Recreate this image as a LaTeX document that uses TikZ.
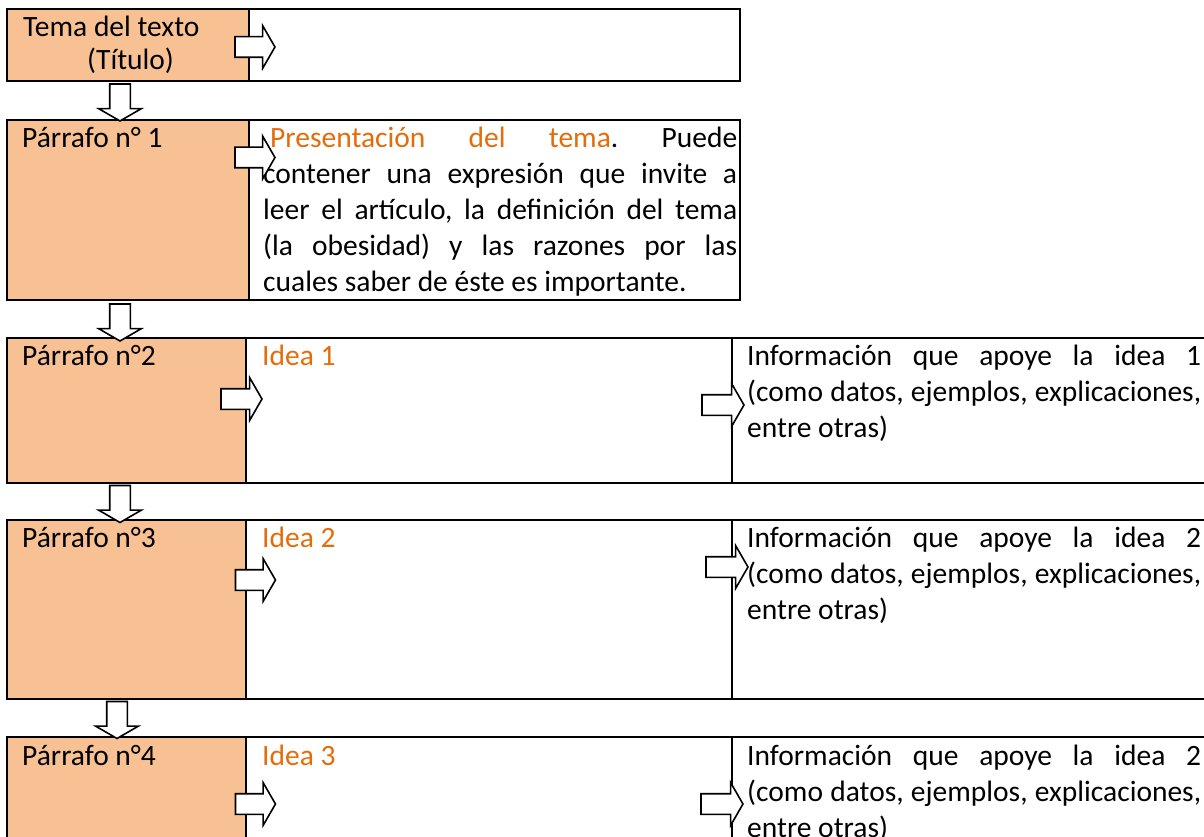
\documentclass[tikz,border=0pt]{standalone}
\usepackage{fontspec}
\setmainfont{Carlito}
\usetikzlibrary{shapes.arrows, positioning}
\definecolor{ParaFill}{HTML}{F8C194}
\definecolor{IdeaOrange}{HTML}{E46C0A}
\frenchspacing

\begin{document}
\begin{tikzpicture}
[x=1pt, y=-1pt,
font=\fontsize{29.5}{36}\selectfont,
LeftCell/.style={rectangle, draw=black, line width=2pt, fill=ParaFill,
inner sep=0pt, outer sep=0pt, anchor=north west, minimum height=#1},
TextCell/.style={rectangle, draw=black, line width=2pt, fill=white,
inner sep=0pt, outer sep=0pt, minimum height=#1},
BlockArrow/.style={single arrow, draw=black, fill=white, line width=1.6pt,
inner xsep=0pt, inner ysep=9.5pt, single arrow head extend=11pt,
single arrow tip angle=120, minimum height=#1},
CellText/.style={anchor=base west, inner sep=0pt},
BodyText/.style={anchor=base west, inner sep=0pt, align=justify, text width=#1}
]
\useasboundingbox (0,0) rectangle (1204,837);

% rows of the outline
\node[LeftCell=72pt, minimum width=242pt] (Tema) at (7,9) {};
\node[TextCell=72pt, minimum width=491pt] (TemaBox) [right=0pt of Tema] {};

\node[LeftCell=180pt, minimum width=242pt] (Par1) at (7,120) {};
\node[TextCell=180pt, minimum width=491pt] (Par1Box) [right=0pt of Par1] {};

\node[LeftCell=145pt, minimum width=239pt] (Par2) at (7,337.5) {};
\node[TextCell=145pt, minimum width=486pt] (Idea1) [right=0pt of Par2] {};
\node[TextCell=145pt, minimum width=490pt] (Info1) [right=0pt of Idea1] {};

\node[LeftCell=179pt, minimum width=239pt] (Par3) at (7,519.5) {};
\node[TextCell=179pt, minimum width=486pt] (Idea2) [right=0pt of Par3] {};
\node[TextCell=179pt, minimum width=490pt] (Info2) [right=0pt of Idea2] {};

\node[LeftCell=179pt, minimum width=239pt] (Par4) at (7,737) {};
\node[TextCell=179pt, minimum width=486pt] (Idea3) [right=0pt of Par4] {};
\node[TextCell=179pt, minimum width=490pt] (Info3) [right=0pt of Idea3] {};

% texts
\node[CellText] (TemaTxt) at ([xshift=16pt, yshift=-28pt]Tema.north west) {Tema del texto};
\node[CellText] (TituloTxt) at ([xshift=80pt, yshift=-61pt]Tema.north west) {(Título)};

\node[CellText] (Par1Txt) at ([xshift=15pt, yshift=-28pt]Par1.north west) {Párrafo n° 1};
\node[BodyText=474pt] (Par1Body) at ([xshift=14pt, yshift=-28pt]Par1Box.north west)
{\hspace*{7pt}\textcolor{IdeaOrange}{Presentación del tema}. Puede\linebreak
contener una expresión que invite a\linebreak
leer el artículo, la definición del tema\linebreak
(la obesidad) y las razones por las\linebreak
cuales saber de éste es importante.};

\node[CellText] (Par2Txt) at ([xshift=15pt, yshift=-28pt]Par2.north west) {Párrafo n°2};
\node[CellText, text=IdeaOrange] (Idea1Txt) at ([xshift=16pt, yshift=-28pt]Idea1.north west) {Idea 1};
\node[BodyText=454pt] (Info1Txt) at ([xshift=15pt, yshift=-28pt]Info1.north west)
{Información que apoye la idea 1\linebreak
(como datos, ejemplos, explicaciones,\linebreak
entre otras)};

\node[CellText] (Par3Txt) at ([xshift=15pt, yshift=-28pt]Par3.north west) {Párrafo n°3};
\node[CellText, text=IdeaOrange] (Idea2Txt) at ([xshift=16pt, yshift=-28pt]Idea2.north west) {Idea 2};
\node[BodyText=454pt] (Info2Txt) at ([xshift=15pt, yshift=-28pt]Info2.north west)
{Información que apoye la idea 2\linebreak
(como datos, ejemplos, explicaciones,\linebreak
entre otras)};

\node[CellText] (Par4Txt) at ([xshift=15pt, yshift=-28pt]Par4.north west) {Párrafo n°4};
\node[CellText, text=IdeaOrange] (Idea3Txt) at ([xshift=16pt, yshift=-28pt]Idea3.north west) {Idea 3};
\node[BodyText=454pt] (Info3Txt) at ([xshift=15pt, yshift=-28pt]Info3.north west)
{Información que apoye la idea 2\linebreak
(como datos, ejemplos, explicaciones,\linebreak
entre otras)};

% block arrows
\node[BlockArrow=40pt] (TemaArrow) at ([xshift=3pt, yshift=-38pt]Tema.north east) {};
\node[BlockArrow=40pt] (Par1Arrow) at ([xshift=3pt, yshift=-37.5pt]Par1.north east) {};
\node[BlockArrow=41pt] (Par2Arrow) at ([xshift=-7.5pt, yshift=-61.5pt]Par2.north east) {};
\node[BlockArrow=42pt] (Idea1Arrow) at ([xshift=-12pt, yshift=-67.5pt]Idea1.north east) {};
\node[BlockArrow=40pt] (Par3Arrow) at ([xshift=6.5pt, yshift=-60.5pt]Par3.north east) {};
\node[BlockArrow=42pt] (Idea2Arrow) at ([xshift=-8pt, yshift=-47.5pt]Idea2.north east) {};
\node[BlockArrow=40pt] (Par4Arrow) at ([xshift=6.5pt, yshift=-67pt]Par4.north east) {};
\node[BlockArrow=42pt] (Idea3Arrow) at ([xshift=-13pt, yshift=-67pt]Idea3.north east) {};

\node[BlockArrow=37pt, rotate=-90] (Down1) at ([xshift=-8pt, yshift=-18.5pt]Tema.south) {};
\node[BlockArrow=37pt, rotate=-90] (Down2) at ([xshift=-8pt, yshift=-19.5pt]Par1.south) {};
\node[BlockArrow=37pt, rotate=-90] (Down3) at ([xshift=-6.5pt, yshift=-18.5pt]Par2.south) {};
\node[BlockArrow=37pt, rotate=-90] (Down4) at ([xshift=-9.5pt, yshift=-18.5pt]Par3.south) {};
\end{tikzpicture}
\end{document}
